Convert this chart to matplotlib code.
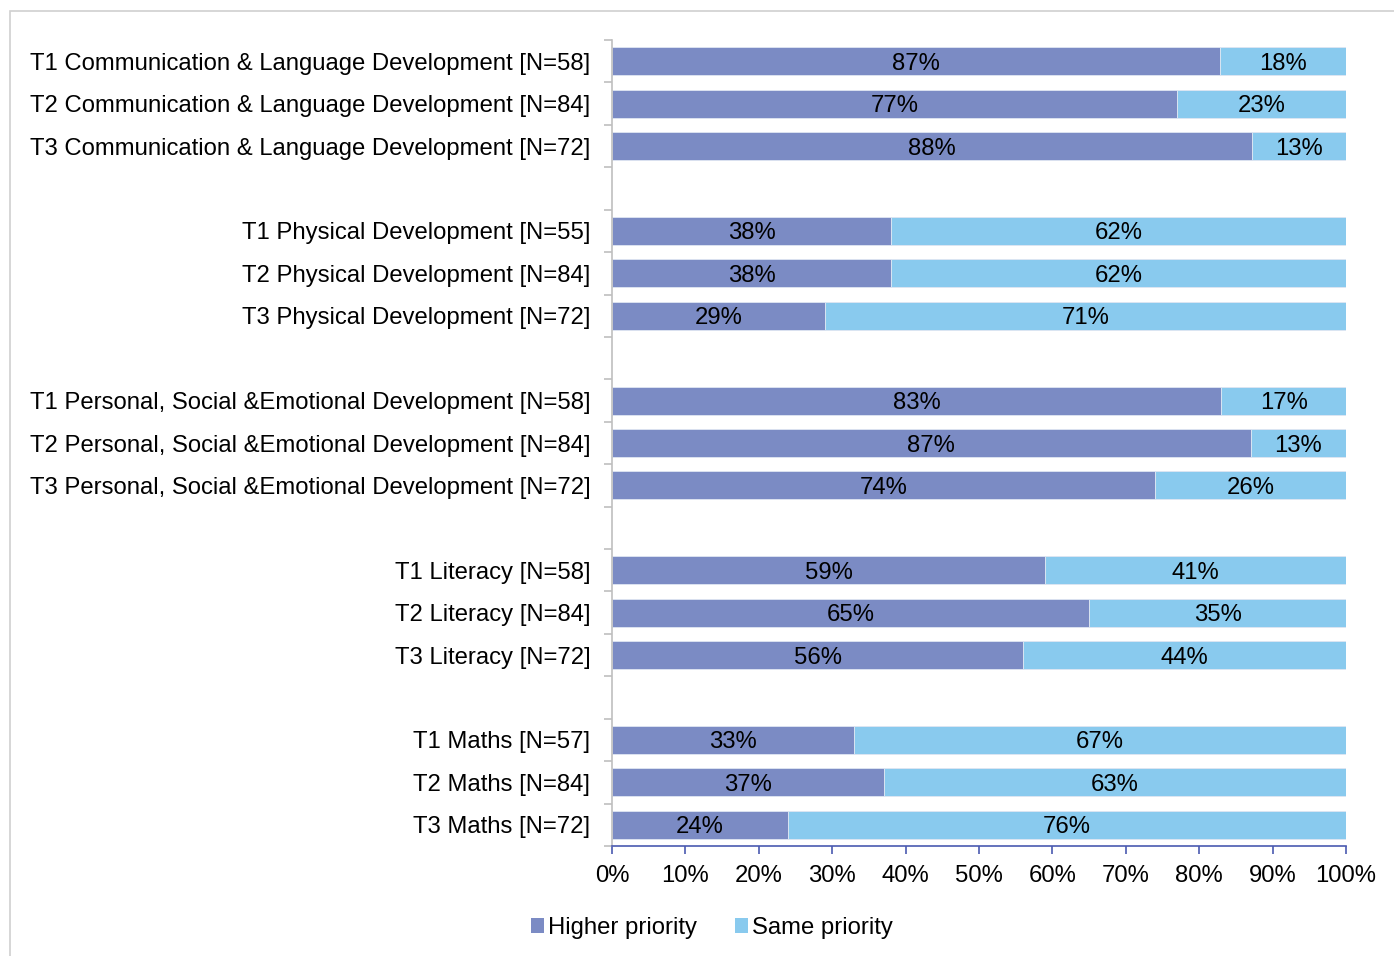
import matplotlib
matplotlib.use("Agg")
import matplotlib.pyplot as plt
from matplotlib.patches import Rectangle, Patch
import numpy as np

plt.rcParams['font.family'] = ['Liberation Sans', 'DejaVu Sans']

categories = [
    "T1 Communication & Language Development [N=58]",
    "T2 Communication & Language Development [N=84]",
    "T3 Communication & Language Development [N=72]",
    "",
    "T1 Physical Development [N=55]",
    "T2 Physical Development [N=84]",
    "T3 Physical Development [N=72]",
    "",
    "T1 Personal, Social &Emotional Development [N=58]",
    "T2 Personal, Social &Emotional Development [N=84]",
    "T3 Personal, Social &Emotional Development [N=72]",
    "",
    "T1 Literacy [N=58]",
    "T2 Literacy [N=84]",
    "T3 Literacy [N=72]",
    "",
    "T1 Maths [N=57]",
    "T2 Maths [N=84]",
    "T3 Maths [N=72]",
]
higher = [87, 77, 88, None, 38, 38, 29, None, 83, 87, 74, None, 59, 65, 56, None, 33, 37, 24]
same = [18, 23, 13, None, 62, 62, 71, None, 17, 13, 26, None, 41, 35, 44, None, 67, 63, 76]
xticklabels = ["0%", "10%", "20%", "30%", "40%", "50%", "60%", "70%", "80%", "90%", "100%"]
series_names = ["Higher priority", "Same priority"]

c_high = "#7b8bc4"
c_same = "#89caee"

fig = plt.figure(figsize=(13.94, 9.56), dpi=100)
# outer gray frame
fig.patches.append(Rectangle((10/1394, -0.01), 1.02, 1 - 11/956 + 0.01, transform=fig.transFigure,
                             fill=False, edgecolor="#d0d0d0", linewidth=1.2))
ax = fig.add_axes([612/1394, 1 - 846/956, (1346-612)/1394, (846-40)/956])

fs = 17.2
for i, (h, s) in enumerate(zip(higher, same)):
    if h is None:
        continue
    tot = h + s
    hf, sf = h / tot, s / tot
    ax.barh(i, hf, height=0.66, color=c_high, edgecolor="#dfe6f2", linewidth=0.6)
    ax.barh(i, sf, left=hf, height=0.66, color=c_same, edgecolor="#dfe6f2", linewidth=0.6)
    ax.text(hf / 2, i, f"{h}%", ha="center", va="center_baseline", fontsize=fs, color="black")
    ax.text(hf + sf / 2, i, f"{s}%", ha="center", va="center_baseline", fontsize=fs, color="black")

n = len(categories)
ax.set_ylim(n - 0.5, -0.5)
ax.set_xlim(0, 1)
ax.set_yticks(range(n))
ax.set_yticklabels(categories, fontsize=fs)
ax.tick_params(axis="y", which="major", length=0, pad=15.5)
ax.set_yticks(np.arange(-0.5, n, 1.0), minor=True)
ax.tick_params(axis="y", which="minor", length=6, color="#bfbfbf", width=1.2)

ax.set_xticks(np.linspace(0, 1, 11))
ax.set_xticklabels(xticklabels, fontsize=fs)
ax.tick_params(axis="x", length=6, color="#4a5ab0", width=1.2, pad=8)

for sp in ["top", "right"]:
    ax.spines[sp].set_visible(False)
ax.spines["left"].set_color("#bfbfbf")
ax.spines["left"].set_linewidth(1.2)
ax.spines["bottom"].set_color("#4a5ab0")
ax.spines["bottom"].set_linewidth(1.2)

handles = [Patch(facecolor=c_high, edgecolor="none"), Patch(facecolor=c_same, edgecolor="none")]
fig.legend(handles, series_names, loc="center", bbox_to_anchor=(712/1394, 1 - 928/956),
           ncol=2, frameon=False, fontsize=fs, handlelength=0.55, handleheight=0.55,
           handletextpad=0.15, columnspacing=1.6)

fig.savefig("out.png", dpi=100)
